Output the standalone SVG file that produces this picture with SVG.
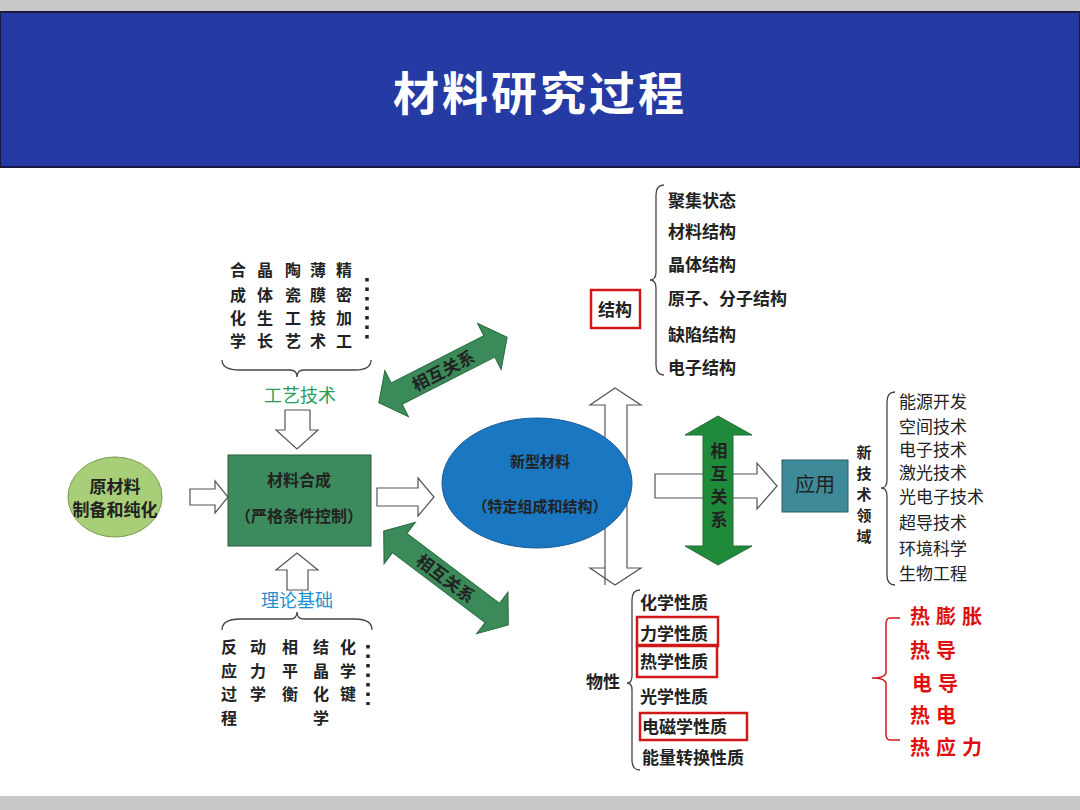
<svg xmlns="http://www.w3.org/2000/svg" width="1080" height="810" viewBox="0 0 1080 810">
<style>
text{font-family:"Noto Sans CJK SC","Noto Sans",sans-serif;fill:#222}
.b{font-weight:bold}
.t{font-size:17px;font-weight:bold}
.c{font-size:18px;font-weight:bold;text-anchor:middle}
.v{font-size:16px;font-weight:bold;text-anchor:middle}
.hol{fill:#fff;stroke:#555;stroke-width:1.2}
.br{fill:none;stroke:#444;stroke-width:1.3}
.red{fill:none;stroke:#d01818;stroke-width:2.5}
.rt{fill:#e01010;font-size:20px;font-weight:bold;letter-spacing:6px}
.g{fill:#3a8a5a;stroke:#2a6a3a;stroke-width:1}
</style>
<rect width="1080" height="810" fill="#fff"/>
<rect width="1080" height="12" fill="#c8c8c8"/>
<rect x="0" y="12" width="1080" height="155" fill="#263aa3" stroke="#1a1a40" stroke-width="2"/>
<text x="540" y="110" text-anchor="middle" font-size="46" font-weight="bold" letter-spacing="3" style="fill:#fff">材料研究过程</text>
<rect y="796" width="1080" height="14" fill="#c8c8c8"/>

<g id="connectors">
<path class="hol" d="M190,489 H215 V481 L228,497 L215,513 V505 H190 Z"/>
<path class="hol" d="M377,488 H418 V478 L434,497 L418,516 V506 H377 Z"/>
<path class="hol" d="M285,410 H310 V430 H318 L297,449 L276,430 H285 Z"/>
<path class="hol" d="M287,590 H308 V570 H318 L297,553 L276,570 H287 Z"/>
<path class="hol" d="M605,585 V405 H590 L615,388 L641,405 H627 V568 H641 L615,585 L590,568 H605 Z"/>
<path class="hol" d="M655,474 H757 V463 L777,486 L757,509 V498 H655 Z"/>
<path class="g" d="M718,416 L752,435 H733 V546 H752 L718,565 L685,546 H703 V435 H685 Z" style="fill:#1e8a3a"/>
<g transform="translate(443,370) rotate(-27)"><path class="g" d="M-72,0 L-52,-26 V-12 H52 V-26 L72,0 L52,26 V12 H-52 V26 Z"/><text x="0" y="7" class="c" style="font-size:17px">相互关系</text></g>
<g transform="translate(446,578) rotate(37)"><path class="g" d="M-78,0 L-58,-26 V-12 H58 V-26 L78,0 L58,26 V12 H-58 V26 Z"/><text x="0" y="7" class="c" style="font-size:17px">相互关系</text></g>
<g class="t" style="font-size:17px"><text x="719" y="457" text-anchor="middle">相</text><text x="719" y="480" text-anchor="middle">互</text><text x="719" y="503" text-anchor="middle">关</text><text x="719" y="526" text-anchor="middle">系</text></g>
</g>

<g id="raw"><ellipse cx="115" cy="497" rx="47" ry="40" fill="#a8cf78" stroke="#7a9a50"/>
<text x="115" y="493" class="c" style="font-size:17px">原材料</text><text x="115" y="516" class="c" style="font-size:17px">制备和纯化</text></g>

<g id="synth"><rect x="228" y="455" width="143" height="91" fill="#3d8a5c" stroke="#2a5a3a"/>
<text x="299" y="486" class="c" style="font-size:16px">材料合成</text><text x="299" y="522" class="c" style="font-size:16px">（严格条件控制）</text></g>

<g id="newmat"><ellipse cx="537" cy="483" rx="95" ry="65" fill="#1a78c2" stroke="#1a5a9a"/>
<text x="540" y="467" class="c" style="font-size:15px">新型材料</text><text x="540" y="512" class="c" style="font-size:15px">（特定组成和结构）</text></g>

<g id="app"><rect x="782" y="460" width="66" height="52" fill="#3f8a98" stroke="#2a5a6a"/>
<text x="815" y="492" class="c" style="font-size:20px;font-weight:normal">应用</text></g>

<g id="craft">
<text x="238" y="276" class="v">合</text><text x="238" y="301" class="v">成</text><text x="238" y="324" class="v">化</text><text x="238" y="347" class="v">学</text>
<text x="265" y="276" class="v">晶</text><text x="265" y="301" class="v">体</text><text x="265" y="324" class="v">生</text><text x="265" y="347" class="v">长</text>
<text x="293" y="276" class="v">陶</text><text x="293" y="301" class="v">瓷</text><text x="293" y="324" class="v">工</text><text x="293" y="347" class="v">艺</text>
<text x="318" y="276" class="v">薄</text><text x="318" y="301" class="v">膜</text><text x="318" y="324" class="v">技</text><text x="318" y="347" class="v">术</text>
<text x="344" y="276" class="v">精</text><text x="344" y="301" class="v">密</text><text x="344" y="324" class="v">加</text><text x="344" y="347" class="v">工</text>
<line x1="367" y1="278" x2="367" y2="342" stroke="#222" stroke-width="3.5" stroke-dasharray="3.5,6"/>
<path class="br" d="M222,360 Q222,370 240,370 H290 Q297,370 297,377 Q297,370 304,370 H355 Q371,370 371,360"/>
<text x="300" y="402" class="c" style="fill:#2a9a5a;font-weight:normal">工艺技术</text></g>

<g id="theory">
<text x="297" y="607" class="c" style="fill:#1a90d0;font-weight:normal">理论基础</text>
<path class="br" d="M222,630 Q222,619 240,619 H290 Q297,619 297,612 Q297,619 304,619 H355 Q372,619 372,630"/>
<text x="229" y="653" class="v">反</text><text x="229" y="677" class="v">应</text><text x="229" y="700" class="v">过</text><text x="229" y="724" class="v">程</text>
<text x="258" y="653" class="v">动</text><text x="258" y="677" class="v">力</text><text x="258" y="700" class="v">学</text>
<text x="290" y="653" class="v">相</text><text x="290" y="677" class="v">平</text><text x="290" y="700" class="v">衡</text>
<text x="321" y="653" class="v">结</text><text x="321" y="677" class="v">晶</text><text x="321" y="700" class="v">化</text><text x="321" y="724" class="v">学</text>
<text x="348" y="653" class="v">化</text><text x="348" y="677" class="v">学</text><text x="348" y="700" class="v">键</text>
<line x1="368" y1="645" x2="368" y2="705" stroke="#222" stroke-width="3.5" stroke-dasharray="3.5,6"/>
</g>

<g id="structure" class="t">
<rect x="591" y="290" width="49" height="38" class="red"/>
<text x="615" y="316" text-anchor="middle">结构</text>
<path class="br" d="M664,185 Q656,185 656,195 V272 Q656,280 650,280 Q656,280 656,288 V365 Q656,375 664,375"/>
<text x="668" y="207">聚集状态</text><text x="668" y="238">材料结构</text><text x="668" y="271">晶体结构</text>
<text x="668" y="305">原子、分子结构</text><text x="668" y="341">缺陷结构</text><text x="668" y="374">电子结构</text>
</g>

<g id="fields" class="t">
<g style="font-size:15px"><text x="864" y="458" text-anchor="middle">新</text><text x="864" y="479" text-anchor="middle">技</text><text x="864" y="500" text-anchor="middle">术</text><text x="864" y="521" text-anchor="middle">领</text><text x="864" y="542" text-anchor="middle">域</text></g>
<path class="br" d="M895,392 Q887,392 887,402 V480 Q887,488 881,488 Q887,488 887,496 V575 Q887,585 895,585"/>
<g style="font-weight:normal;font-size:17px;fill:#111">
<text x="899" y="408">能源开发</text><text x="899" y="433">空间技术</text><text x="899" y="456">电子技术</text><text x="899" y="479">激光技术</text>
<text x="899" y="503">光电子技术</text><text x="899" y="529">超导技术</text><text x="899" y="555">环境科学</text><text x="899" y="580">生物工程</text></g>
</g>

<g id="props" class="t">
<text x="603" y="688" text-anchor="middle">物性</text>
<path class="br" d="M640,590 Q632,590 632,600 V676 Q632,683 627,683 Q632,683 632,690 V760 Q632,770 640,770"/>
<text x="640" y="609">化学性质</text><text x="640" y="640">力学性质</text><text x="640" y="668">热学性质</text>
<text x="640" y="703">光学性质</text><text x="642" y="733">电磁学性质</text><text x="642" y="764">能量转换性质</text>
<rect x="637" y="617" width="81" height="29" class="red"/><rect x="637" y="645" width="80" height="32" class="red"/><rect x="640" y="713" width="107" height="27" class="red"/>
</g>

<g id="thermal">
<path d="M900,618 H890 Q886,618 886,624 V672 Q886,678 872,678 Q886,678 886,684 V734 Q886,740 890,740 H900" fill="none" stroke="#d01818" stroke-width="1.5"/>
<text x="910" y="624" class="rt">热膨胀</text><text x="910" y="658" class="rt">热导</text><text x="912" y="691" class="rt">电导</text>
<text x="910" y="723" class="rt">热电</text><text x="910" y="755" class="rt">热应力</text>
</g>
</svg>
